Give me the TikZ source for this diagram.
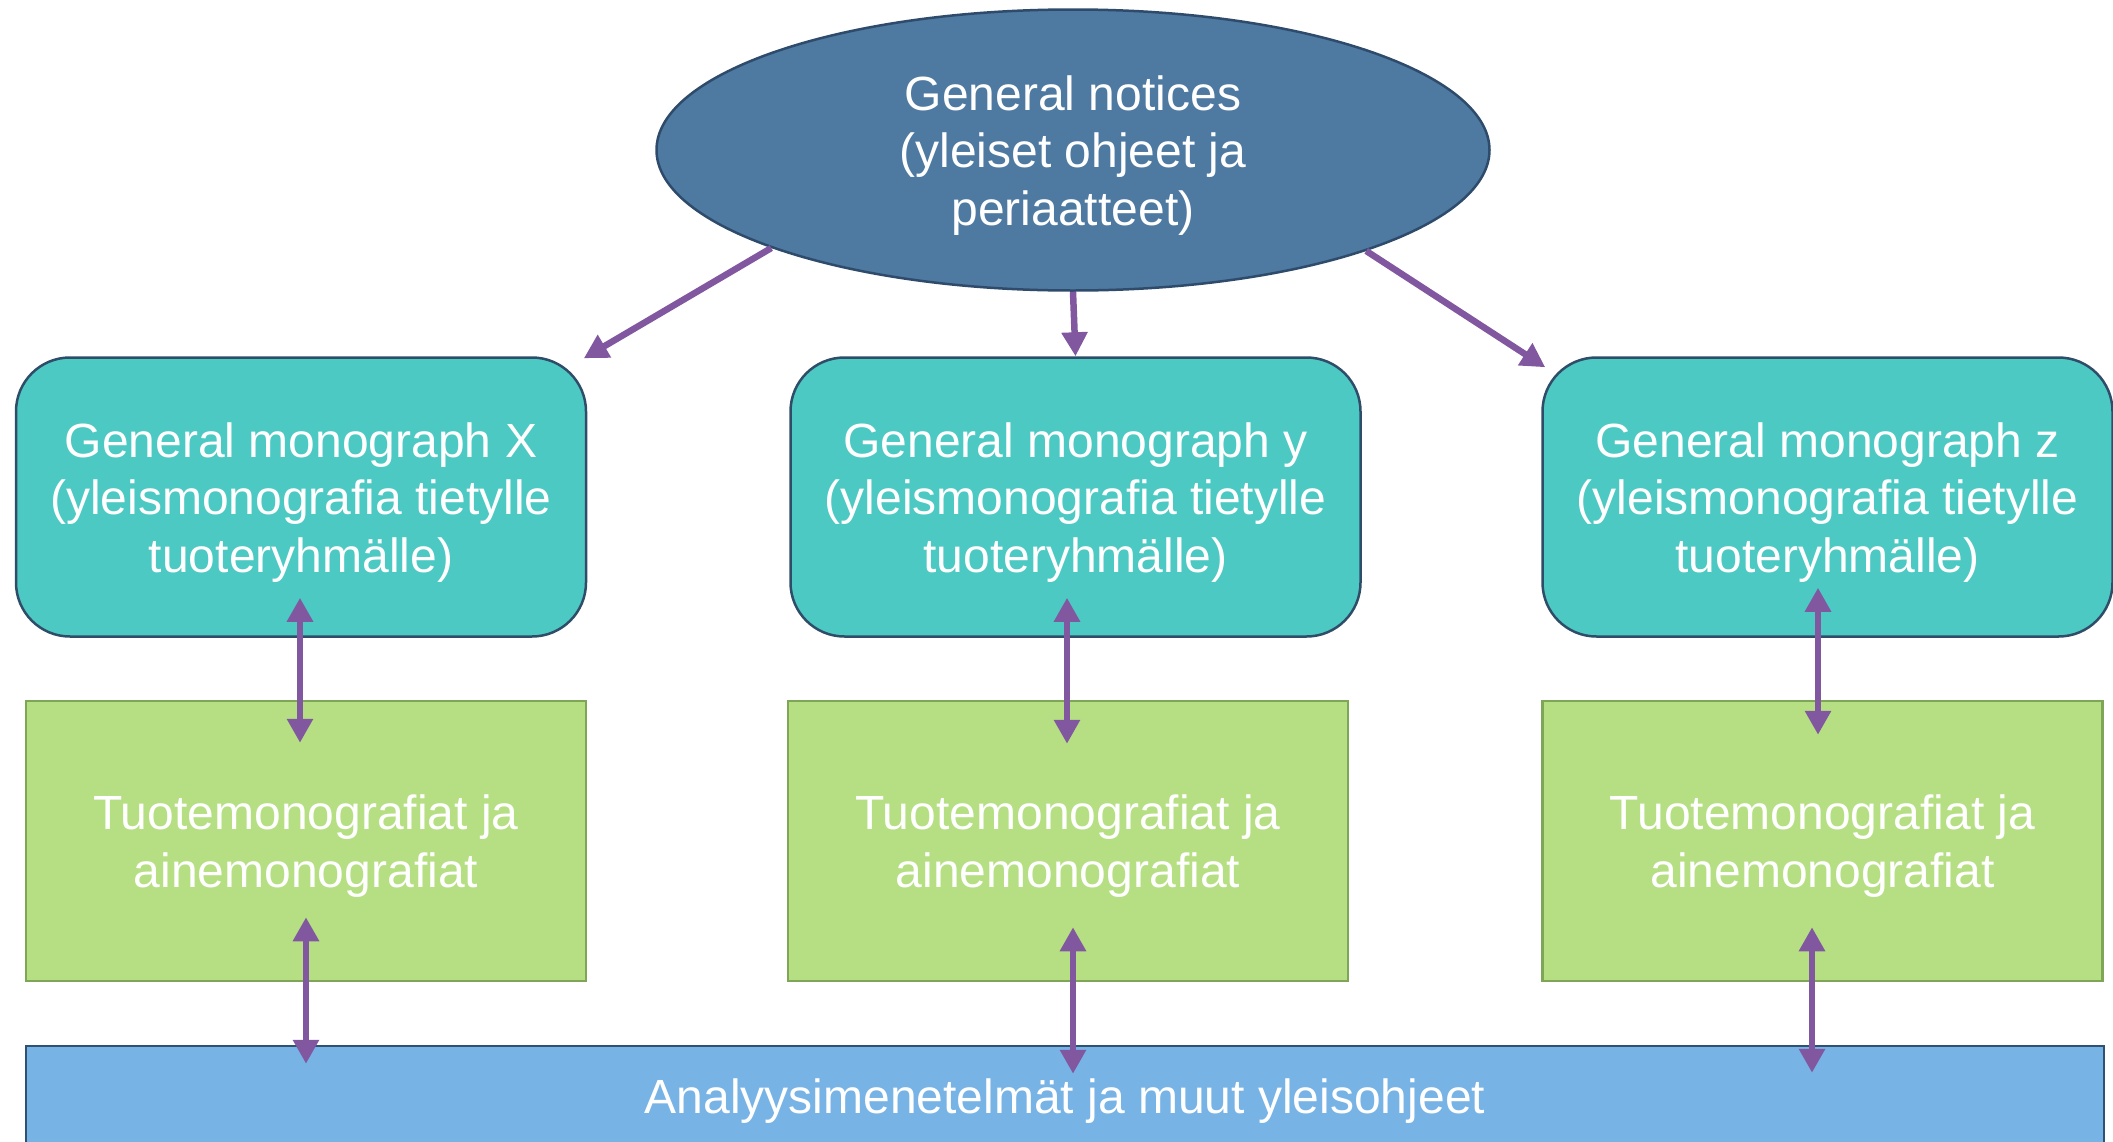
\documentclass[tikz,border=0pt]{standalone}
\usepackage{fontspec}
\setmainfont{Liberation Sans}
\usetikzlibrary{shapes.geometric,arrows.meta,calc}
\definecolor{ellfill}{HTML}{4E79A1}
\definecolor{ellline}{HTML}{2E4B6B}
\definecolor{tealfill}{HTML}{4DC9C3}
\definecolor{tealline}{HTML}{2F4D69}
\definecolor{greenfill}{HTML}{B6DF84}
\definecolor{greenline}{HTML}{7FA556}
\definecolor{barfill}{HTML}{78B3E6}
\definecolor{barline}{HTML}{2F5172}
\definecolor{arrowc}{HTML}{8157A0}
\newcommand\mltext[1]{\raisebox{-6pt}[\height][\depth]{\begin{tabular}{@{}c@{}}#1\end{tabular}}}
\tikzset{
  lbl/.style={text=white,font=\fontsize{48}{57.5}\selectfont,align=center,inner sep=0pt},
  topell/.style={lbl,ellipse,fill=ellfill,draw=ellline,line width=2.5pt,minimum width=833pt,minimum height=281pt},
  tealbox/.style={lbl,rectangle,rounded corners=54pt,fill=tealfill,draw=tealline,line width=2.5pt,minimum width=570pt,minimum height=279pt},
  greenbox/.style={lbl,rectangle,fill=greenfill,draw=greenline,line width=2.5pt,minimum width=560pt,minimum height=280pt},
  barbox/.style={lbl,rectangle,fill=barfill,draw=barline,line width=2.5pt,minimum width=2078pt,minimum height=100pt},
  conn/.style={arrowc,line width=6.5pt,-{Triangle[length=24pt,width=25pt]}},
  dconn/.style={arrowc,line width=6.5pt,{Triangle[length=24pt,width=25pt]}-{Triangle[length=24pt,width=25pt]}}
}
\begin{document}
\begin{tikzpicture}[x=1pt,y=-1pt]
\useasboundingbox (0,0) rectangle (2113,1141);
\node[topell] (ell) at (1073,150) {\mltext{General notices\\(yleiset ohjeet ja\\periaatteet)}};
\node[tealbox] (b1) at (301,497) {\mltext{General monograph X\\(yleismonografia tietylle\\tuoteryhmälle)}};
\node[tealbox] (b2) at (1075.5,497) {\mltext{General monograph y\\(yleismonografia tietylle\\tuoteryhmälle)}};
\node[tealbox] (b3) at (1827.5,497) {\mltext{General monograph z\\(yleismonografia tietylle\\tuoteryhmälle)}};
\node[greenbox] (g1) at (306,841) {\mltext{Tuotemonografiat ja\\ainemonografiat}};
\node[greenbox] (g2) at (1068,841) {\mltext{Tuotemonografiat ja\\ainemonografiat}};
\node[greenbox] (g3) at (1822.5,841) {\mltext{Tuotemonografiat ja\\ainemonografiat}};
\node[barbox] (bar) at (1065,1096) {\mltext{Analyysimenetelmät ja muut yleisohjeet}};
% top arrows
\draw[conn,shorten >=-4pt] (ell.198.6) -- (b1.north east);
\draw[conn] (ell.south) -- (b2.north);
\draw[conn] (ell.341.4) -- ([xshift=4pt,yshift=-11pt]b3.north west);
% upper double arrows
\draw[dconn,shorten <=-40pt,shorten >=-43pt] (b1.south -| 300,0) -- (g1.north -| 300,0);
\draw[dconn,shorten <=-40pt,shorten >=-44pt] (b2.south -| 1067,0) -- (g2.north -| 1067,0);
\draw[dconn,shorten <=-50pt,shorten >=-35pt] (b3.south -| 1818,0) -- (g3.north -| 1818,0);
% lower double arrows
\draw[dconn,shorten <=-65pt,shorten >=-19pt] (g1.south -| 306,0) -- (bar.north -| 306,0);
\draw[dconn,shorten <=-55pt,shorten >=-29pt] (g2.south -| 1073,0) -- (bar.north -| 1073,0);
\draw[dconn,shorten <=-55pt,shorten >=-28pt] (g3.south -| 1812,0) -- (bar.north -| 1812,0);
\end{tikzpicture}
\end{document}
